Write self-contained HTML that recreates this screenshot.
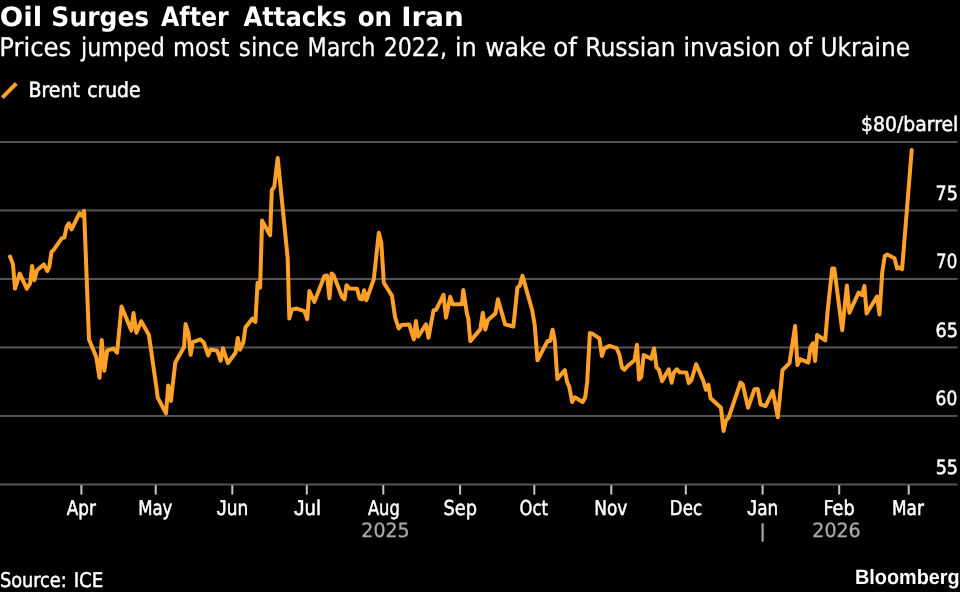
<!DOCTYPE html>
<html lang="en">
<head>
<meta charset="utf-8">
<title>Oil Surges After Attacks on Iran</title>
<style>
html,body{margin:0;padding:0;background:#000;}
body{width:960px;height:592px;overflow:hidden;}
svg{display:block;}
svg{fill:#fff;text-rendering:geometricPrecision;}
</style>
</head>
<body>
<svg width="960" height="592" viewBox="0 0 960 592">
<rect x="0" y="0" width="960" height="592" fill="#000"/>
<g style="font-family:'DejaVu Sans','Liberation Sans',sans-serif;font-weight:bold;font-size:26.6px;">
<text transform="translate(-0.14 25.60) scale(1.0379 1)">Oil</text>
<text transform="translate(51.37 25.60) scale(0.9401 1)">Surges</text>
<text transform="translate(161.01 25.60) scale(0.8913 1)">After</text>
<text transform="translate(243.51 25.60) scale(0.9107 1)">Attacks</text>
<text transform="translate(357.69 25.60) scale(0.9232 1)">on</text>
<text transform="translate(401.26 25.60) scale(1.0442 1)">Iran</text>
</g>
<g style="font-family:'DejaVu Sans Condensed','Liberation Sans',sans-serif;font-size:25.6px;stroke:#fff;stroke-width:0.25px;">
<text transform="translate(-0.78 55.65) scale(1.0583 1)">Prices</text>
<text transform="translate(81.10 55.65) scale(0.9649 1)">jumped</text>
<text transform="translate(173.01 55.65) scale(0.9781 1)">most</text>
<text transform="translate(238.85 55.65) scale(1.0056 1)">since</text>
<text transform="translate(307.41 55.65) scale(0.9693 1)">March</text>
<text transform="translate(383.63 55.65) scale(0.9628 1)">2022,</text>
<text transform="translate(455.07 55.65) scale(1.0248 1)">in</text>
<text transform="translate(485.20 55.65) scale(1.0225 1)">wake</text>
<text transform="translate(553.22 55.65) scale(1.0685 1)">of</text>
<text transform="translate(585.30 55.65) scale(1.0191 1)">Russian</text>
<text transform="translate(683.39 55.65) scale(1.0151 1)">invasion</text>
<text transform="translate(788.19 55.65) scale(1.0917 1)">of</text>
<text transform="translate(820.49 55.65) scale(1.0068 1)">Ukraine</text>
</g>
<line x1="2.25" y1="97.6" x2="16.3" y2="83.5" stroke="#ffa028" stroke-width="4"/>
<g style="font-family:'DejaVu Sans Condensed','Liberation Sans',sans-serif;font-size:20.8px;stroke:#fff;stroke-width:0.5px;">
<text transform="translate(28.46 97.45) scale(1.0130 1)">Brent</text>
<text transform="translate(87.16 97.45) scale(1.0013 1)">crude</text>
</g>
<g fill="#545454">
<rect x="0" y="140.96" width="957.5" height="2"/>
<rect x="0" y="209.46" width="957.5" height="2"/>
<rect x="0" y="277.96" width="957.5" height="2"/>
<rect x="0" y="346.46" width="957.5" height="2"/>
<rect x="0" y="414.96" width="957.5" height="2"/>
<rect x="0" y="483.46" width="957.5" height="2"/>
</g>
<g fill="#c6c6c6">
<rect x="80.4" y="485.2" width="2" height="9.4"/>
<rect x="154.7" y="485.2" width="2" height="9.4"/>
<rect x="231.3" y="485.2" width="2" height="9.4"/>
<rect x="305.8" y="485.2" width="2" height="9.4"/>
<rect x="382.3" y="485.2" width="2" height="9.4"/>
<rect x="459.1" y="485.2" width="2" height="9.4"/>
<rect x="533.3" y="485.2" width="2" height="9.4"/>
<rect x="610.3" y="485.2" width="2" height="9.4"/>
<rect x="684.8" y="485.2" width="2" height="9.4"/>
<rect x="761.6" y="485.2" width="2" height="9.4"/>
<rect x="838.2" y="485.2" width="2" height="9.4"/>
<rect x="907.7" y="485.2" width="2" height="9.4"/>
</g>
<rect x="761.5" y="523.3" width="2.2" height="18.4" fill="#a6a6a6"/>
<g style="font-family:'DejaVu Sans Condensed','Liberation Sans',sans-serif;font-size:20.4px;stroke:#fff;stroke-width:0.5px;">
<text transform="translate(66.82 514.50) scale(0.9174 1)">Apr</text>
<text transform="translate(138.17 514.50) scale(0.9011 1)">May</text>
<text transform="translate(216.84 514.50) scale(0.9211 1)"><tspan style="font-family:'Liberation Sans',sans-serif;font-size:21.4px">J</tspan>un</text>
<text transform="translate(294.08 514.50) scale(0.9821 1)"><tspan style="font-family:'Liberation Sans',sans-serif;font-size:21.4px">J</tspan>ul</text>
<text transform="translate(367.92 514.50) scale(0.8889 1)">Aug</text>
<text transform="translate(443.45 514.50) scale(0.9690 1)">Sep</text>
<text transform="translate(519.57 514.50) scale(0.8967 1)">Oct</text>
<text transform="translate(594.24 514.50) scale(0.9240 1)">Nov</text>
<text transform="translate(669.87 514.50) scale(0.9052 1)">Dec</text>
<text transform="translate(747.34 514.50) scale(0.9198 1)"><tspan style="font-family:'Liberation Sans',sans-serif;font-size:21.4px">J</tspan>an</text>
<text transform="translate(823.49 514.50) scale(0.9610 1)">Feb</text>
<text transform="translate(892.05 514.50) scale(0.9177 1)">Mar</text>
</g>
<g style="font-family:'DejaVu Sans Condensed','Liberation Sans',sans-serif;font-size:19.6px;stroke:#ababab;stroke-width:0.25px;fill:#ababab;">
<text transform="translate(361.34 537.40) scale(1.0744 1)">2025</text>
<text transform="translate(812.33 537.40) scale(1.0767 1)">2026</text>
</g>
<g style="font-family:'DejaVu Sans Condensed','Liberation Sans',sans-serif;font-size:20.0px;stroke:#fff;stroke-width:0.45px;">
<text transform="translate(860.97 131.45) scale(1.0472 1)">$80/barrel</text>
<text transform="translate(935.62 199.90) scale(0.9971 1)" style="font-size:19.6px">75</text>
<text transform="translate(936.08 268.40) scale(0.9414 1)" style="font-size:19.6px">70</text>
<text transform="translate(935.58 336.90) scale(0.9986 1)" style="font-size:19.6px">65</text>
<text transform="translate(935.62 405.40) scale(0.9624 1)" style="font-size:19.6px">60</text>
<text transform="translate(935.69 473.80) scale(0.9938 1)" style="font-size:19.6px">55</text>
</g>
<polyline fill="none" stroke="#ffa028" stroke-width="4" stroke-linejoin="round" stroke-linecap="round" points="10.0,256.5 13.0,264.4 15.0,288.6 19.7,273.6 26.8,288.6 30.1,283.6 32.1,266 34.3,280.3 37.1,270.2 43.8,264.4 47.3,271 49.3,266.9 51.5,251.8 53.5,250.2 61.9,238.1 64.4,237.6 66.6,226.8 68.9,223.4 71.6,229.3 79.4,213.4 81.9,215.9 84.1,210.9 89.0,339.4 96.2,357 99.5,377.8 101.7,340 104.3,370.8 107.2,350.4 113.8,348.8 117.1,352.6 121.5,306.5 131.3,330.6 133.5,313 136.4,332.8 141.2,321.2 148.9,335 156.6,388.8 157.7,397.6 166.0,413.4 168.2,385.5 170.9,400.9 175.3,362.4 184.0,347.1 185.6,324 188.4,332.8 190.6,354.8 192.8,342.2 200.5,339.4 203.8,342.7 208.2,355.4 210.4,349.7 217.0,350.4 220.7,360.7 222.9,348.2 227.9,363.1 235.6,352.6 237.8,337.9 240.0,349.7 243.3,342.7 245.5,327.3 252.5,318.6 255.4,322 257.6,282.7 260.1,287.7 262.1,220.6 270.1,235.3 271.8,190.2 274.3,186.8 277.7,158.0 287.7,258.4 289.3,318.6 291.8,309.4 296.9,308.6 304.4,311.1 307.2,319.1 309.4,291 314.4,301.9 324.4,276 327.0,275.6 329.5,298.2 331.6,273.5 333.6,275.1 342.0,296.9 344.5,299.4 346.5,285.2 349.5,288.5 357.1,288.8 359.6,298.5 362.1,299.4 364.1,290.2 366.3,300.2 373.8,279.3 378.8,232.8 381.3,242.5 383.8,282.7 392.0,295.9 395.0,316.8 398.7,328.5 401.7,324.9 409.2,324.4 413.9,339.4 415.9,321 418.1,336.6 426.0,324.4 428.5,337.7 433.5,310.5 436.0,309.8 443.5,294.8 446.0,317.7 450.2,296.8 452.7,304.3 461.9,304.3 463.3,290.1 466.9,313.5 468.3,318.5 470.3,341.1 480.3,329.4 482.8,312.7 485.3,329.4 487.8,320.2 495.4,313.5 497.9,299.3 505.1,324.4 513.4,326.5 517.4,287.6 519.6,285.9 522.5,275.9 532.2,310.2 534.7,325.2 537.5,360.3 547.6,340.9 550.1,340.9 552.6,329.7 554.7,340.1 557.3,378.9 564.8,370.2 567.1,381.9 569.3,386.9 572.1,402 574.8,397.3 582.7,402 585.2,397.3 587.2,381.9 589.9,333.1 592.2,333.7 599.4,338.4 601.9,356 604.4,348.4 609.4,345.9 616.6,348.1 619.5,355.1 622.0,367.7 624.5,369.8 627.0,366.5 634.5,360.2 637.0,344.8 639.0,379.4 641.2,376.9 643.7,355.1 651.2,358.8 654.1,348.4 656.6,367.7 658.8,369.3 662.1,381.1 668.8,369.3 671.6,382.7 673.8,372.7 676.7,369.3 679.7,372.2 686.4,372.6 688.8,383 691.4,380.1 696.2,364.2 703.4,381 705.9,389.8 708.4,384.8 710.6,398.2 721.0,407.7 723.5,431.1 726.0,420.3 728.5,417.8 740.5,382.6 742.7,384.3 748.1,407.7 754.4,389.3 757.8,389 760.6,404.4 765.6,406.1 772.8,391 777.8,417.3 782.5,370.1 789.5,363.1 795.1,326.1 797.4,365.1 800.1,359.2 808.4,362.6 810.4,347.5 812.9,343.3 815.1,360.9 817.1,334.9 825.2,340.3 827.7,310.2 832.2,268.4 834.3,268.4 842.2,330.3 846.9,285.4 849.4,312.7 858.6,292.6 861.9,295.1 864.4,285.9 866.6,313.5 877.0,296.5 879.5,314.4 882.3,271.7 884.8,256 887.3,254.5 894.5,258.3 897.1,268.4 899.6,267.5 902.1,269.2 911.7,150.1"/>
<g style="font-family:'DejaVu Sans Condensed','Liberation Sans',sans-serif;font-size:20.2px;stroke:#fff;stroke-width:0.45px;">
<text transform="translate(-0.07 587.45) scale(0.9761 1)">Source:</text>
<text transform="translate(73.63 587.45) scale(1.0054 1)">ICE</text>
</g>
<g style="font-family:'Liberation Sans',sans-serif;font-weight:bold;font-size:20.8px;">
<text transform="translate(854.97 584.40) scale(0.9539 1)">Bloomberg</text>
</g>
</svg>
</body>
</html>
